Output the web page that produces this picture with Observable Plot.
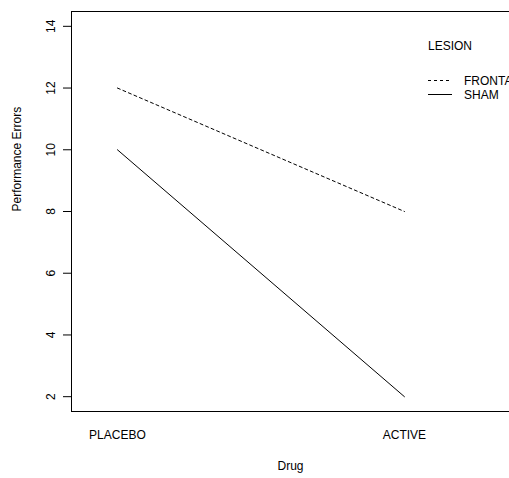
<!DOCTYPE html>
<html>
<head>
<meta charset="utf-8">
<script src="https://cdn.jsdelivr.net/npm/d3@7"></script>
<script src="https://cdn.jsdelivr.net/npm/@observablehq/plot@0.6"></script>
<style>
  html, body { margin: 0; padding: 0; background: #fff; overflow: hidden; }
</style>
</head>
<body>
<div id="chart"></div>
<script>
// Interaction plot: mean performance errors by drug condition, one line per lesion group
const drugs = ["PLACEBO", "ACTIVE"];
const lesions = ["FRONTAL", "SHAM"];
const frontalErrors = [12, 8];
const shamErrors = [10, 2];
const yTicks = [2, 4, 6, 8, 10, 12, 14];
const dashes = { FRONTAL: "3,3", SHAM: null };

const rows = [];
drugs.forEach((d, i) => {
  rows.push({ drug: d, level: i + 1, lesion: "FRONTAL", errors: frontalErrors[i] });
  rows.push({ drug: d, level: i + 1, lesion: "SHAM", errors: shamErrors[i] });
});

const font = "'Liberation Sans', Arial, Helvetica, sans-serif";
const xDomain = [0.84, 2.366];
const yDomain = [1.52, 14.48];

const chart = Plot.plot({
  width: 509,
  height: 478,
  marginLeft: 71,
  marginRight: 0,
  marginTop: 11,
  marginBottom: 67,
  style: { fontFamily: font, fontSize: "12px", background: "#fff", color: "#000" },
  x: { domain: xDomain, axis: null },
  y: { domain: yDomain, axis: null },
  marks: [
    // plot box (left, top, bottom edges; the right edge lies beyond the page)
    Plot.ruleX([xDomain[0]], { stroke: "#000", strokeWidth: 1 }),
    Plot.ruleY(yDomain, { stroke: "#000", strokeWidth: 1 }),
    // y axis ticks and rotated labels
    Plot.axisY({ ticks: yTicks, tickSize: 8, tickFormat: () => "", label: null, stroke: "#000" }),
    Plot.text(yTicks, {
      y: d => d, frameAnchor: "left", rotate: -90, text: d => String(d),
      textAnchor: "middle", lineAnchor: "bottom", dx: -17, fill: "#000", fontSize: 12
    }),
    // x category labels
    Plot.text(drugs, {
      x: (d, i) => i + 1, frameAnchor: "bottom", text: d => d,
      lineAnchor: "middle", dy: 24, fill: "#000", fontSize: 12
    }),
    // axis titles
    Plot.text(["Drug"], { frameAnchor: "bottom", lineAnchor: "middle", dy: 55, fill: "#000", fontSize: 12 }),
    Plot.text(["Performance Errors"], {
      frameAnchor: "left", rotate: -90, lineAnchor: "middle", dx: -54, fill: "#000", fontSize: 12
    }),
    // one line per lesion group
    ...lesions.map(l => Plot.line(rows.filter(r => r.lesion === l), {
      x: "level", y: "errors", stroke: "#000", strokeWidth: 1,
      strokeDasharray: dashes[l]
    }))
  ]
});

document.getElementById("chart").append(chart);

// legend
const svg = d3.select(chart);
const lg = svg.append("g")
  .attr("font-family", font).attr("font-size", 12)
  .attr("fill", "#000").attr("text-anchor", "start");
lg.append("text").attr("x", 428).attr("y", 50).text("LESION");
lesions.forEach((l, i) => {
  const y = 80.5 + i * 14;
  lg.append("line").attr("x1", 428).attr("x2", 452).attr("y1", y).attr("y2", y)
    .attr("stroke", "#000").attr("stroke-width", 1)
    .attr("stroke-dasharray", dashes[l]);
  lg.append("text").attr("x", 464).attr("y", y).attr("dy", "0.35em").text(l);
});
</script>
</body>
</html>
